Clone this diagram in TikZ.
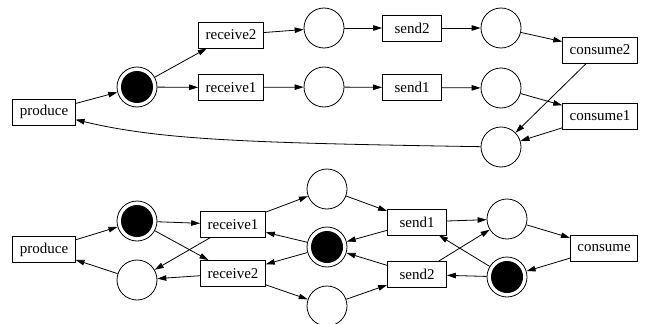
\documentclass[tikz,border=0pt]{standalone}
\usepackage{fontspec}
\setmainfont{Liberation Serif}
\usetikzlibrary{arrows.meta}

\tikzset{
  place/.style={circle,draw,line width=0.8pt,minimum size=40pt,inner sep=0pt},
  marked/.style={place,path picture={\fill (path picture bounding box.center) circle (16pt);}},
  trans/.style={rectangle,draw,line width=0.8pt,minimum height=26pt,minimum width=59pt,
    inner xsep=7pt,font=\fontsize{15}{18}\selectfont},
  arr/.style={-{Triangle[length=9pt,width=5.5pt]},line width=0.8pt}
}

\begin{document}
\begin{tikzpicture}[x=1pt,y=-1pt]
\useasboundingbox (0,0) rectangle (648,324);
% upper net
\node[trans] (tprod) at (44,112) {produce};
\node[marked] (tp0) at (137,87) {};
\node[trans] (trecv2) at (231,35) {receive2};
\node[trans] (trecv1) at (231,87.5) {receive1};
\node[place] (tpa2) at (324,28) {};
\node[place] (tpa1) at (324,87) {};
\node[trans] (tsend2) at (412,28) {send2};
\node[trans] (tsend1) at (412,87.5) {send1};
\node[place] (tpb2) at (501,28) {};
\node[place] (tpb1) at (501,88) {};
\node[trans] (tcons2) at (600,50) {consume2};
\node[trans] (tcons1) at (600,116) {consume1};
\node[place] (tpc) at (501,147) {};
\draw[arr] (tprod)--(tp0);
\draw[arr] (tp0)--(trecv2);
\draw[arr] (tp0)--(trecv1);
\draw[arr] (trecv2)--(tpa2);
\draw[arr] (trecv1)--(tpa1);
\draw[arr] (tpa2)--(tsend2);
\draw[arr] (tpa1)--(tsend1);
\draw[arr] (tsend2)--(tpb2);
\draw[arr] (tsend1)--(tpb1);
\draw[arr] (tpb2)--(tcons2);
\draw[arr] (tpb1)--(tcons1);
\draw[arr] (tcons2)--(tpc);
\draw[arr] (tcons1)--(tpc);
\draw[arr] (tpc) .. controls (250,143) and (160,140) .. (tprod);
% lower net
\node[trans] (bprod) at (44,249.5) {produce};
\node[marked] (bp0) at (137,221) {};
\node[place] (bpfree) at (137,280) {};
\node[trans] (brecv1) at (233,224.5) {receive1};
\node[trans] (brecv2) at (233,273.5) {receive2};
\node[place] (bpa) at (327,189) {};
\node[marked] (bpm) at (327,247) {};
\node[place] (bpb) at (327,306) {};
\node[trans] (bsend1) at (417,222) {send1};
\node[trans] (bsend2) at (417,274.5) {send2};
\node[place] (bpr) at (507,219) {};
\node[marked] (bpk) at (507,277) {};
\node[trans] (bcons) at (604,248) {consume};
\draw[arr] (bprod)--(bp0);
\draw[arr] (bpfree)--(bprod);
\draw[arr] (bp0)--(brecv1);
\draw[arr] (bp0)--(brecv2);
\draw[arr] (brecv1)--(bpfree);
\draw[arr] (brecv2)--(bpfree);
\draw[arr] (brecv1)--(bpa);
\draw[arr] (bpm)--(brecv1);
\draw[arr] (bpm)--(brecv2);
\draw[arr] (brecv2)--(bpb);
\draw[arr] (bpa)--(bsend1);
\draw[arr] (bsend1)--(bpm);
\draw[arr] (bsend2)--(bpm);
\draw[arr] (bpb)--(bsend2);
\draw[arr] (bsend1)--(bpr);
\draw[arr] (bsend2)--(bpr);
\draw[arr] (bpk)--(bsend1);
\draw[arr] (bpk)--(bsend2);
\draw[arr] (bpr)--(bcons);
\draw[arr] (bcons)--(bpk);
\end{tikzpicture}
\end{document}
